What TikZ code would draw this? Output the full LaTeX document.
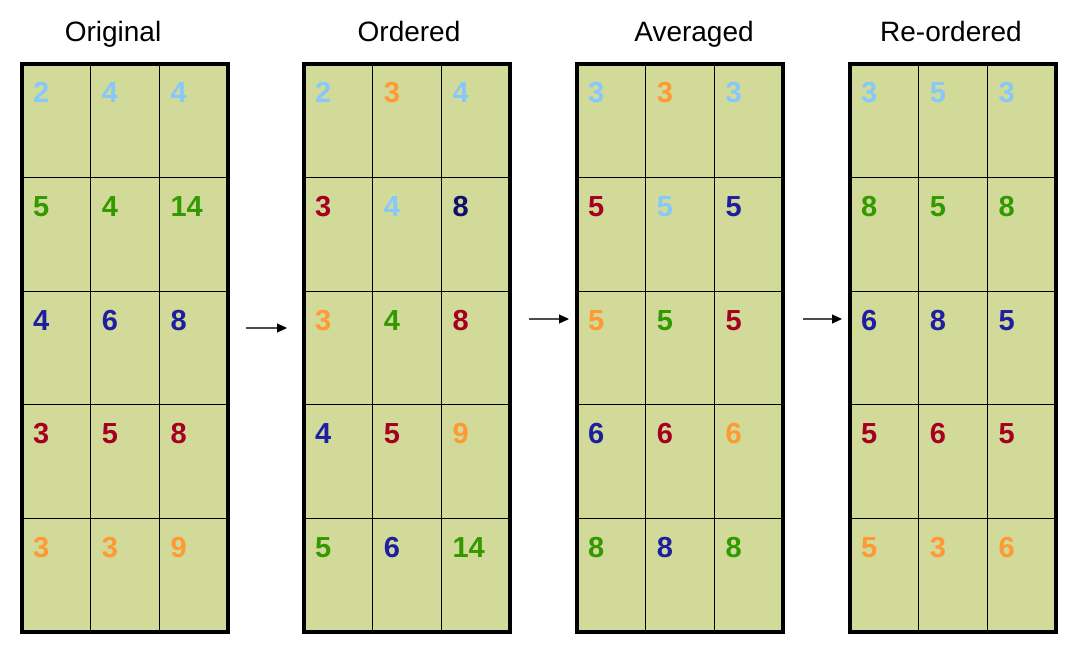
\documentclass[tikz,border=0pt]{standalone}
\usepackage{fontspec}
\setmainfont{Liberation Sans}
\usetikzlibrary{arrows.meta}
\definecolor{cellfill}{RGB}{209,218,152}
\definecolor{lb}{RGB}{135,200,250}
\definecolor{gr}{RGB}{51,153,0}
\definecolor{bl}{RGB}{30,30,160}
\definecolor{nv}{RGB}{15,15,105}
\definecolor{rd}{RGB}{165,0,33}
\definecolor{or}{RGB}{255,153,51}
\begin{document}
\begin{tikzpicture}[x=1pt, y=-1pt,
  title/.style={anchor=base, font=\fontsize{28}{32}\selectfont},
  num/.style={anchor=base west, inner sep=0pt, font=\fontsize{29}{32}\selectfont\bfseries},
  step arrow/.style={draw=gray!60!black, line width=1.2pt, -{Triangle[length=10pt, width=9pt, black]}}]
\useasboundingbox (0,0) rectangle (1077,652);
% the four grids
\foreach \name/\left in {orig/22, ord/304, avg/577, reord/850} {
  \fill [cellfill] (\left,64) rectangle (\left+206,632);
  \foreach \k in {1,2} \draw [line width=1.3pt] (\left+68.7*\k,64) -- (\left+68.7*\k,632);
  \foreach \k in {1,...,4} \draw [line width=1.3pt] (\left,64+113.6*\k) -- (\left+206,64+113.6*\k);
  \draw [line width=3.2pt] (\left,64) rectangle (\left+206,632);
}
% titles
\node [title] (t-orig) at (113,42) {Original};
\node [title] (t-ord) at (409,42) {Ordered};
\node [title] (t-avg) at (694,42) {Averaged};
\node [title] (t-reord) at (951,42) {Re-ordered};
% numbers
\foreach \name/\left/\list in {
  orig/22/{2/lb,4/lb,4/lb,5/gr,4/gr,14/gr,4/bl,6/bl,8/bl,3/rd,5/rd,8/rd,3/or,3/or,9/or},
  ord/304/{2/lb,3/or,4/lb,3/rd,4/lb,8/nv,3/or,4/gr,8/rd,4/bl,5/rd,9/or,5/gr,6/bl,14/gr},
  avg/577/{3/lb,3/or,3/lb,5/rd,5/lb,5/bl,5/or,5/gr,5/rd,6/bl,6/rd,6/or,8/gr,8/bl,8/gr},
  reord/850/{3/lb,5/lb,3/lb,8/gr,5/gr,8/gr,6/bl,8/bl,5/bl,5/rd,6/rd,5/rd,5/or,3/or,6/or}} {
  \foreach \v/\c [count=\i from 0] in \list {
    \pgfmathtruncatemacro{\row}{int(\i/3)}
    \pgfmathtruncatemacro{\col}{mod(\i,3)}
    \node [num, text=\c] (\name-\i) at (\left+11+68.7*\col, 103+113.6*\row) {\v};
  }
}
% arrows between the grids
\coordinate (a1) at (246,328); \coordinate (b1) at (287,328);
\coordinate (a2) at (529,319); \coordinate (b2) at (569,319);
\coordinate (a3) at (803,319); \coordinate (b3) at (842,319);
\draw [step arrow] (a1) -- (b1);
\draw [step arrow] (a2) -- (b2);
\draw [step arrow] (a3) -- (b3);
\end{tikzpicture}
\end{document}
